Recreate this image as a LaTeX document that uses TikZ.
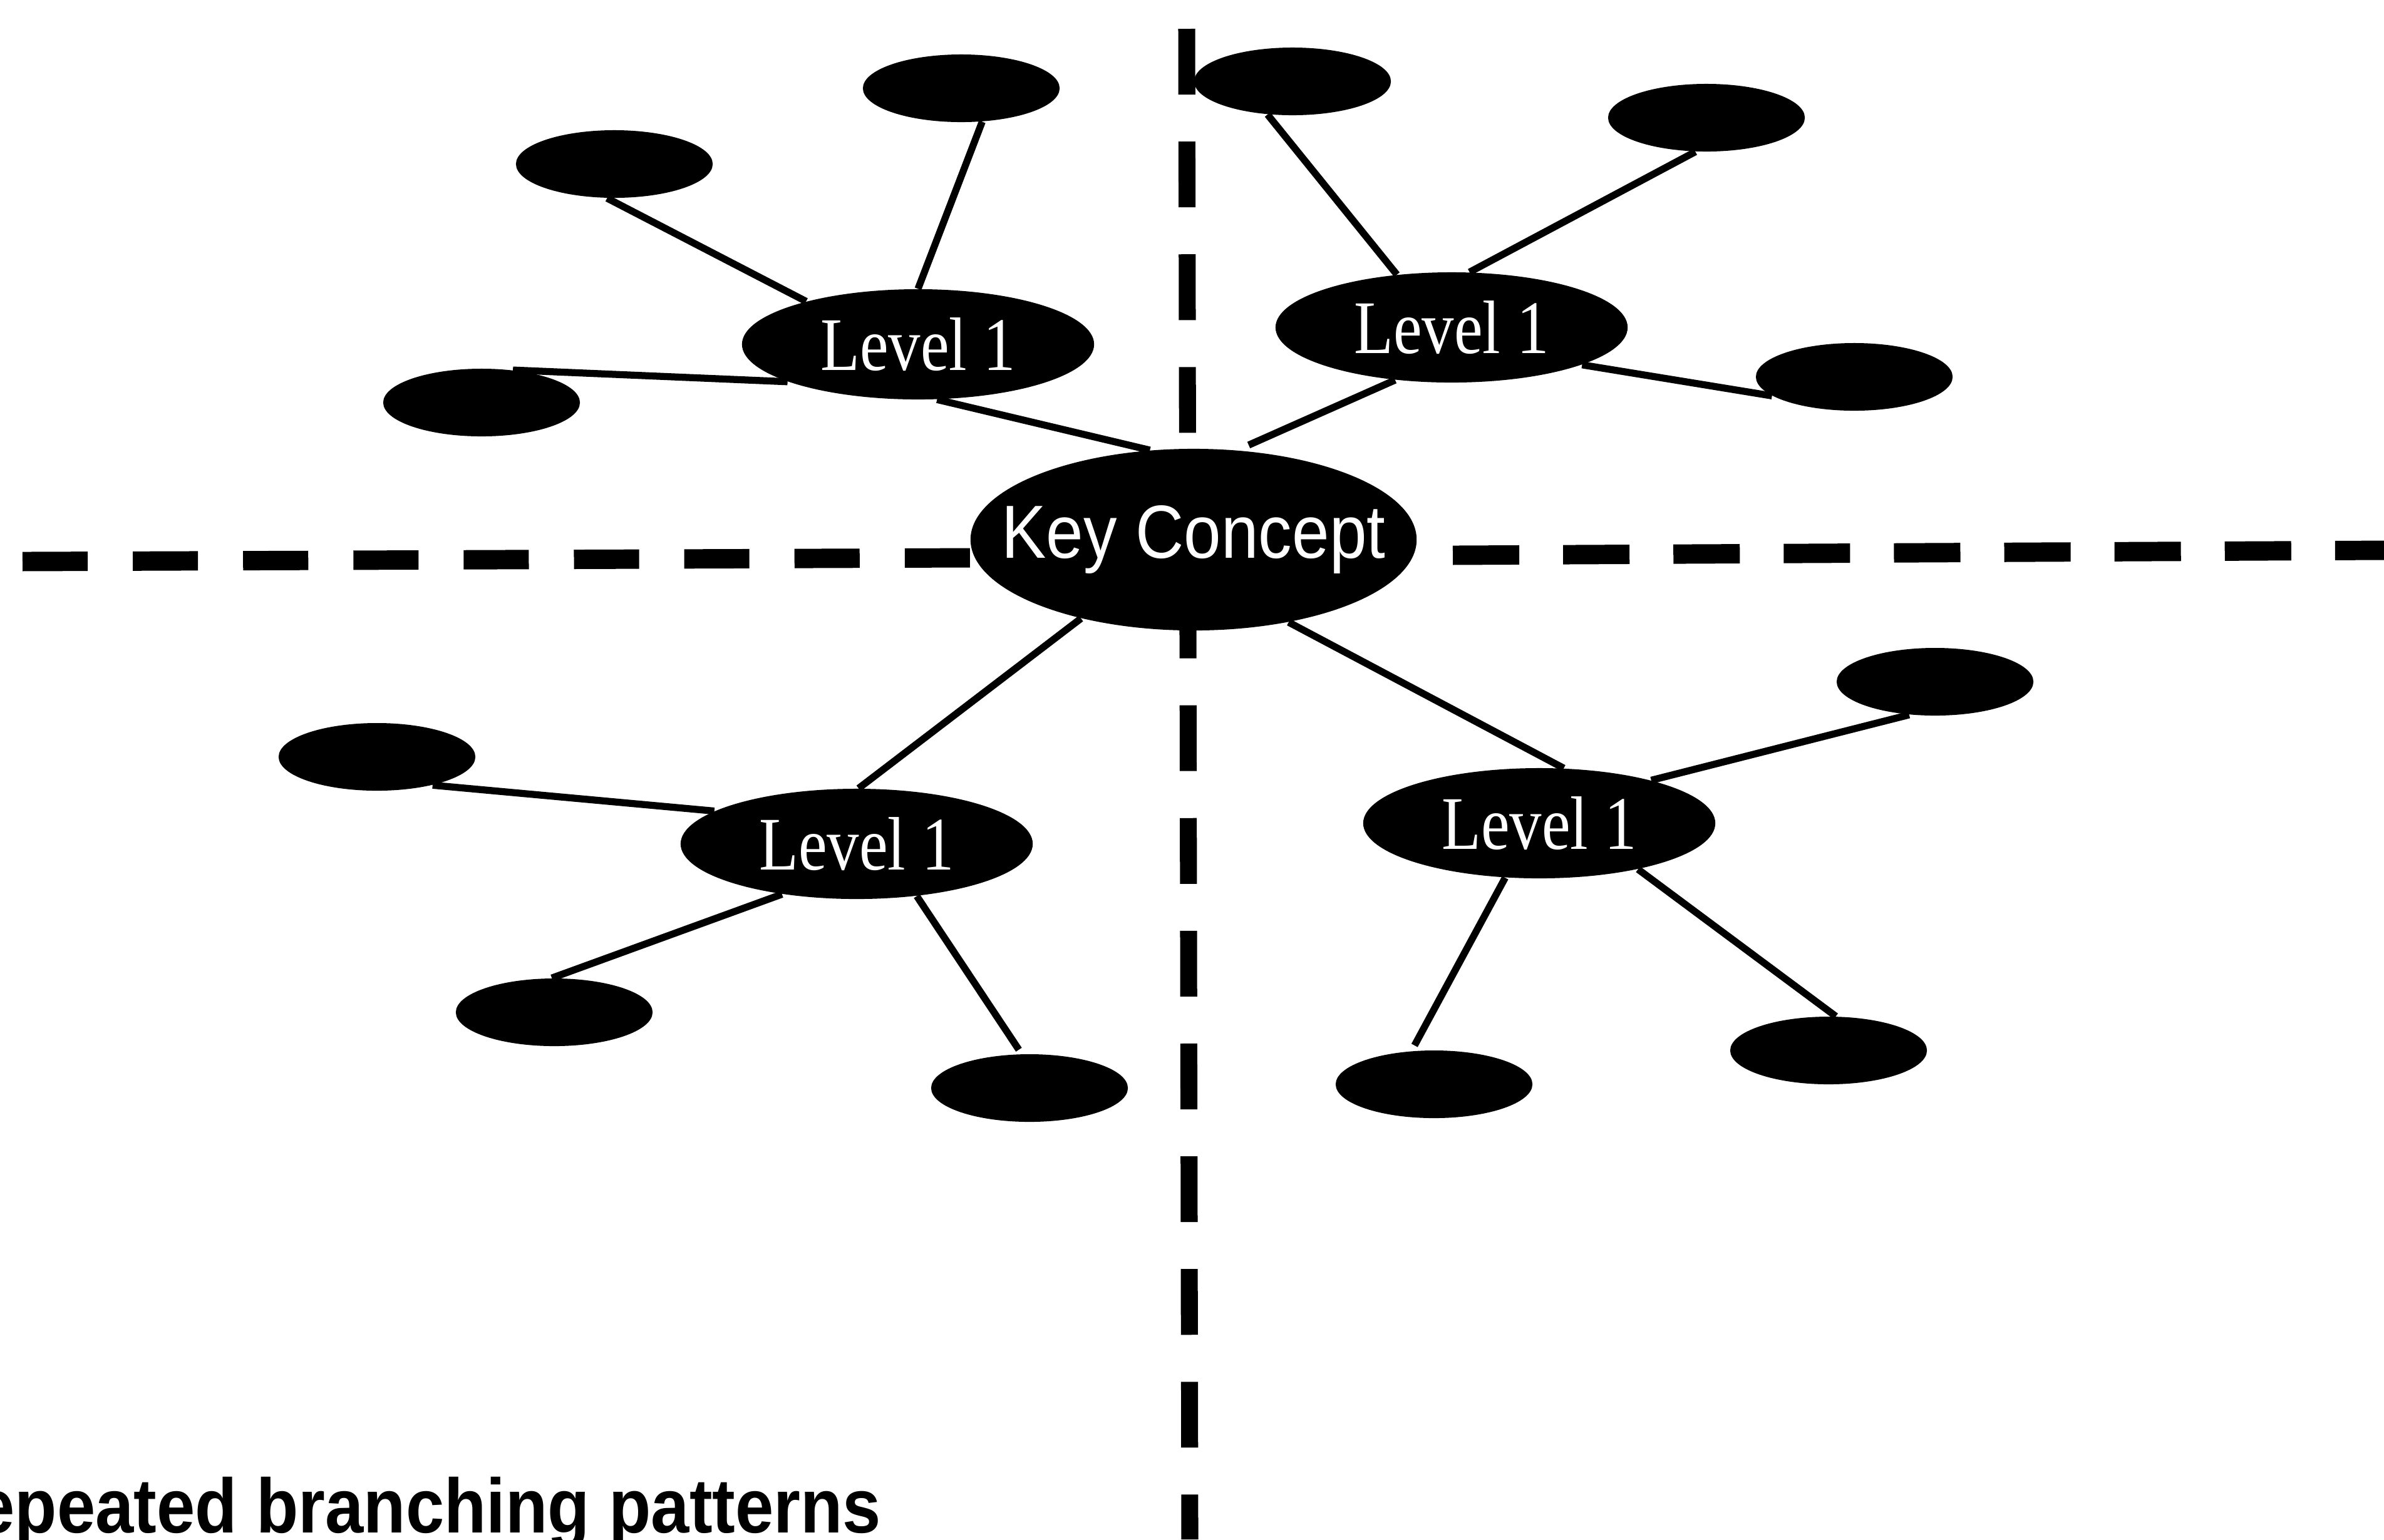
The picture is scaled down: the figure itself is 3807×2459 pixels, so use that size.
\documentclass[tikz,border=0pt]{standalone}
\usepackage{fontspec}
\setmainfont{Liberation Serif}
\newfontfamily\kcfont[FakeStretch=0.89]{Liberation Sans}
\newfontfamily\lvfont[FakeStretch=0.85]{Liberation Serif}
\newfontfamily\capfont[FakeStretch=0.895]{Liberation Sans}
\usetikzlibrary{shapes.geometric}
\tikzset{
  leaf/.style={ellipse, fill=black, inner sep=0pt, minimum width=3.14cm, minimum height=1.08cm},
  lvl/.style={ellipse, fill=black, inner sep=0pt, minimum width=5.62cm, minimum height=1.76cm,
    text=white, font=\lvfont\fontsize{34.4pt}{40pt}\selectfont},
  key/.style={ellipse, fill=black, inner sep=0pt, minimum width=7.12cm, minimum height=2.90cm,
    text=white, font=\kcfont\fontsize{34.2pt}{40pt}\selectfont},
  link/.style={draw=black, line width=3.2pt},
  vaxis/.style={draw=black, line width=7.7pt, dash pattern=on 1.05cm off 0.75cm},
  haxisL/.style={draw=black, line width=8.8pt, dash pattern=on 1.04cm off 0.72cm},
  haxisR/.style={draw=black, line width=8.8pt, dash pattern=on 1.06cm off 0.70cm},
  caption/.style={anchor=base west, inner sep=0pt, font=\capfont\bfseries\fontsize{35pt}{40pt}\selectfont}
}
\begin{document}
\begin{tikzpicture}[x=0.01cm,y=-0.01cm]
\fill[white] (0,0) rectangle (3807,2459);
\useasboundingbox (0,0) rectangle (3807,2459);

% dashed axes
\coordinate (vtop) at (1895,46);
\coordinate (vbot) at (1900,2459);
\coordinate (hl1) at (36,897);
\coordinate (hl2) at (1550,891);
\coordinate (hr1) at (2320,887);
\coordinate (hr2) at (3807,879);
\draw[vaxis] (vtop) -- (vbot);
\draw[haxisL] (hl1) -- (hl2);
\draw[haxisR] (hr1) -- (hr2);

% central and level-1 nodes
\node[key] (kc) at (1906,862) {\makebox[0pt]{Key Concept}};
\node[lvl] (tl) at (1466,550) {Level 1};
\node[lvl] (tr) at (2318,523) {Level 1};
\node[lvl] (bl) at (1368,1348) {Level 1};
\node[lvl] (br) at (2458,1315) {Level 1};

% leaves
\node[leaf] (s1) at (1535,141) {};
\node[leaf] (s2) at (981,262) {};
\node[leaf] (s3) at (769,643) {};
\node[leaf] (s4) at (2064,130) {};
\node[leaf] (s5) at (2725,188) {};
\node[leaf] (s6) at (2961,602) {};
\node[leaf] (s7) at (602,1209) {};
\node[leaf] (s8) at (885,1617) {};
\node[leaf] (s9) at (1644,1738) {};
\node[leaf] (s10) at (3090,1089) {};
\node[leaf] (s11) at (2290,1732) {};
\node[leaf] (s12) at (2920,1678) {};

% connectors
\draw[link] (tl.90) -- (s1.-58);
\draw[link] (tl.159) -- (s2.-102);
\draw[link] (s3.46) -- (tl.196);
\draw[link] (tl.-71) -- (kc.116);
\draw[link] (tr.136) -- (s4.-127);
\draw[link] (tr.72) -- (s5.-108);
\draw[link] (tr.-16) -- (s6.-167);
\draw[link, shorten >=0.2cm] (tr.-137) -- (kc.64);
\draw[link] (kc.-145) -- (bl.88);
\draw[link] (bl.167) -- (s7.-27);
\draw[link] (bl.-146) -- (s8.94);
\draw[link, shorten >=0.08cm] (bl.-41) -- (s9.103);
\draw[link] (kc.-41) -- (br.66);
\draw[link] (br.21) -- (s10.-128);
\draw[link, shorten >=0.1cm] (br.-122) -- (s11.124);
\draw[link] (br.-25) -- (s12.78);

% caption (cut at the left and bottom edges, as in the reference)
\node[caption] (cap) at (-38,2448) {epeated branching patterns};
\end{tikzpicture}
\end{document}
